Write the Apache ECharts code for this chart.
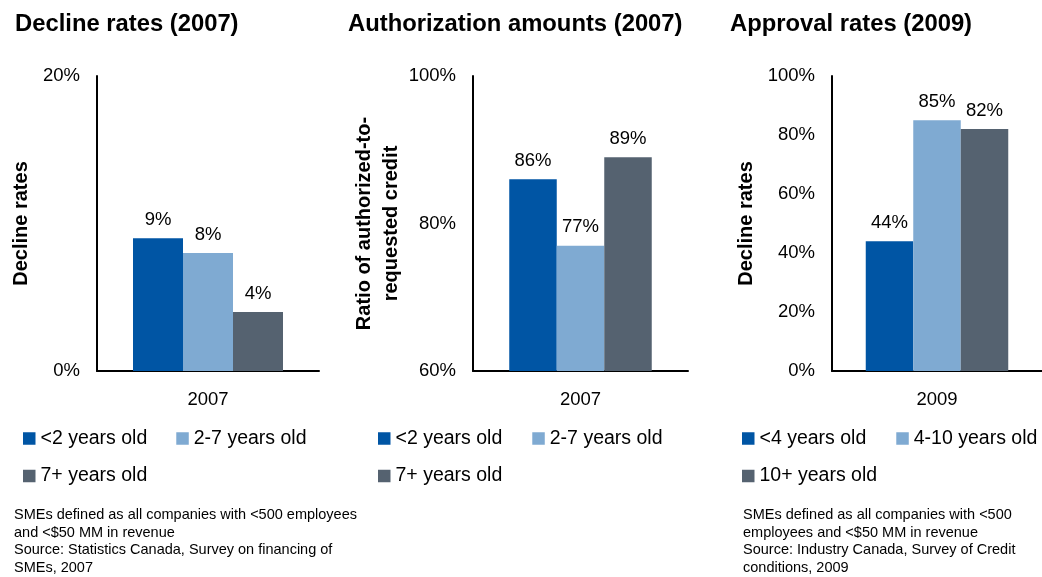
<!DOCTYPE html>
<html>
<head>
<meta charset="utf-8">
<script src="https://cdn.jsdelivr.net/npm/echarts@6/dist/echarts.min.js"></script>
<style>
  html, body { margin: 0; padding: 0; background: #ffffff; }
  #chart { width: 1042px; height: 577px; }
</style>
</head>
<body>
<div id="chart"></div>
<script>
// ---- Data ----
const declineCategories = ['2007'];
const declineGroups = ['<2 years old', '2-7 years old', '7+ years old'];
const declineValues = [9, 8, 4];
const declineTicks = [0, 20];

const authCategories = ['2007'];
const authGroups = ['<2 years old', '2-7 years old', '7+ years old'];
const authValues = [86, 77, 89];
const authTicks = [60, 80, 100];

const approvalCategories = ['2009'];
const approvalGroups = ['<4 years old', '4-10 years old', '10+ years old'];
const approvalValues = [44, 85, 82];
const approvalTicks = [0, 20, 40, 60, 80, 100];

const panelTitles = ['Decline rates (2007)', 'Authorization amounts (2007)', 'Approval rates (2009)'];
const axisNames = ['Decline rates', 'Ratio of authorized-to-\nrequested credit', 'Decline rates'];
const footnoteLeft = 'SMEs defined as all companies with <500 employees\nand <$50 MM in revenue\nSource: Statistics Canada, Survey on financing of\nSMEs, 2007';
const footnoteRight = 'SMEs defined as all companies with <500\nemployees and <$50 MM in revenue\nSource: Industry Canada, Survey of Credit\nconditions, 2009';

// ---- Styling ----
const FONT = '"Liberation Sans", Arial, Helvetica, sans-serif';
const COLORS = ['#0055A4', '#7FAAD2', '#556270'];

const panels = [
  { cats: declineCategories, groups: declineGroups, values: declineValues, ticks: declineTicks,
    left: 97, width: 222, barWidth: 50, nameGap: 62, legendLeft: 23, legendGap: 29 },
  { cats: authCategories, groups: authGroups, values: authValues, ticks: authTicks,
    left: 473, width: 215, barWidth: 47.5, nameGap: 61, legendLeft: 378, legendGap: 30 },
  { cats: approvalCategories, groups: approvalGroups, values: approvalValues, ticks: approvalTicks,
    left: 832, width: 210, barWidth: 47.5, nameGap: 72.5, legendLeft: 742, legendGap: 30 }
];

const grid = [], xAxis = [], yAxis = [], series = [], legend = [];

panels.forEach((p, i) => {
  grid.push({ left: p.left, top: 76, width: p.width, height: 295, outerBoundsMode: 'none' });
  xAxis.push({
    type: 'category', gridIndex: i, data: p.cats,
    axisLine: { show: true, lineStyle: { color: '#000', width: 2 } },
    axisTick: { show: false },
    axisLabel: { color: '#000', fontSize: 18.5, fontFamily: FONT, margin: 19 }
  });
  const step = p.ticks[1] - p.ticks[0];
  yAxis.push({
    type: 'value', gridIndex: i,
    min: p.ticks[0], max: p.ticks[p.ticks.length - 1], interval: step,
    name: axisNames[i], nameLocation: 'middle', nameRotate: 90, nameGap: p.nameGap,
    nameTextStyle: { color: '#000', fontSize: 20, fontWeight: 'bold', fontFamily: FONT, lineHeight: 27 },
    axisLine: { show: true, lineStyle: { color: '#000', width: 2 } },
    axisTick: { show: false },
    splitLine: { show: false },
    axisLabel: { color: '#000', fontSize: 18.5, fontFamily: FONT, margin: 17, formatter: '{value}%' }
  });
  p.groups.forEach((g, k) => {
    series.push({
      type: 'bar', name: g, xAxisIndex: i, yAxisIndex: i,
      data: [p.values[k]],
      barWidth: p.barWidth, barGap: '0%',
      itemStyle: { color: COLORS[k] },
      label: { show: true, position: 'top', distance: 9, color: '#000',
               fontSize: 18.5, fontFamily: FONT, formatter: '{c}%' },
      emphasis: { disabled: true }
    });
  });
  const legendBase = {
    left: p.legendLeft, padding: 0, icon: 'rect', itemWidth: 12.5, itemHeight: 12.5,
    itemGap: p.legendGap, selectedMode: false,
    textStyle: { color: '#000', fontSize: 19.5, fontFamily: FONT }
  };
  legend.push(Object.assign({}, legendBase, { top: 428.5, data: p.groups.slice(0, 2) }));
  legend.push(Object.assign({}, legendBase, { top: 466, data: p.groups.slice(2) }));
});

const titleX = [15, 348, 730];
const graphic = panelTitles.map((t, i) => ({
  type: 'text', left: titleX[i], top: 12,
  style: { text: t, fill: '#000', fontSize: 23.8, fontWeight: 'bold', fontFamily: FONT }
}));
graphic.push({
  type: 'text', left: 14, top: 506.5,
  style: { text: footnoteLeft, fill: '#000', fontSize: 14.5, fontFamily: FONT, lineHeight: 17.5 }
});
graphic.push({
  type: 'text', left: 743, top: 506.5,
  style: { text: footnoteRight, fill: '#000', fontSize: 14.5, fontFamily: FONT, lineHeight: 17.5 }
});

const chart = echarts.init(document.getElementById('chart'), null, { renderer: 'canvas' });
chart.setOption({
  animation: false,
  backgroundColor: '#ffffff',
  textStyle: { fontFamily: FONT },
  grid, xAxis, yAxis, series, legend, graphic
});
</script>
</body>
</html>
